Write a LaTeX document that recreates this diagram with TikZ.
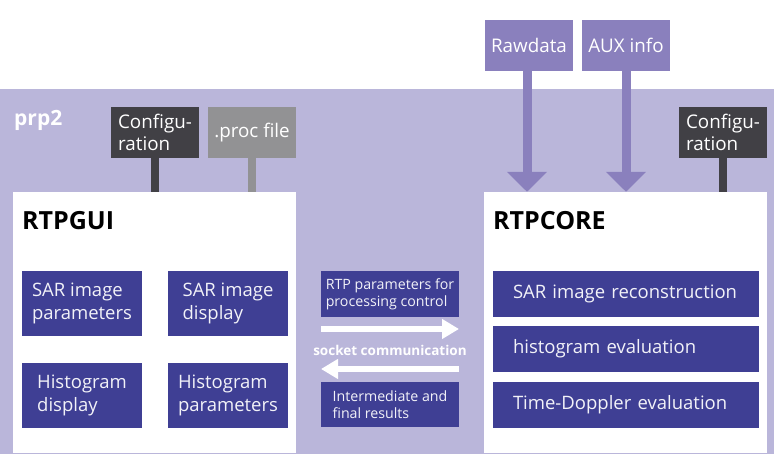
\documentclass[tikz,border=0pt]{standalone}
\usepackage{fontspec}
\setmainfont{Open Sans}
\usetikzlibrary{arrows.meta}
\definecolor{band}{HTML}{BAB6DA}
\definecolor{darkbox}{HTML}{414045}
\definecolor{graybox}{HTML}{929294}
\definecolor{navy}{HTML}{3F3F94}
\definecolor{lilac}{HTML}{8A80BD}
\definecolor{paletext}{HTML}{F2F2F8}
\tikzset{
  wh/.style 2 args={rectangle, inner sep=0pt, minimum width=#1pt, minimum height=#2pt},
  bigbox/.style={wh={283}{261}, fill=white},
  inner/.style={fill=navy, text=paletext, align=left, font=\fontsize{18.5}{23}\selectfont},
  midbox/.style={wh={138}{46}, fill=navy, text=paletext, align=left, font=\fontsize{14.2}{17}\selectfont},
  topbox/.style={wh={88}{51}, text=white, align=left, font=\fontsize{18.8}{22}\selectfont},
  title/.style={anchor=base west, inner sep=0pt, font=\fontsize{25}{28}\selectfont\bfseries},
  stem/.style={line width=7.5pt},
  feed/.style={lilac, line width=9pt, -{Triangle[width=39pt,length=20pt]}},
  sock/.style={white, line width=6pt, -{Triangle[width=19pt,length=17pt]}}
}
\begin{document}
\begin{tikzpicture}[x=1pt,y=-1pt]
\useasboundingbox (0,0) rectangle (774,454);
\fill[band] (0,89) rectangle (774,454);
\node[anchor=base west, inner sep=0pt, text=white, font=\fontsize{21}{24}\selectfont\bfseries] (prp) at (14,126) {prp2};

% top boxes
\node[topbox, fill=darkbox] (cfgL) at (155,132.5) {Configu-\\ration};
\node[topbox, fill=graybox] (proc) at (252,132.5) {.proc file};
\node[topbox, fill=darkbox] (cfgR) at (723,132.5) {Configu-\\ration};
\node[topbox, fill=lilac] (raw) at (529,45.5) {Rawdata};
\node[topbox, fill=lilac] (aux) at (626,45.5) {AUX info};

% big boxes
\node[bigbox] (gui) at (154.5,322.5) {};
\node[bigbox] (core) at (625.5,322.5) {};
\node[title] (guit) at (22,230) {RTPGUI};
\node[title] (coret) at (493,230) {RTPCORE};

% stems
\draw[stem, darkbox] (cfgL.south) -- (cfgL.south |- gui.north);
\draw[stem, graybox] (proc.south) -- (proc.south |- gui.north);
\draw[stem, darkbox] (cfgR.south) -- (cfgR.south |- core.north);
\draw[feed] ([xshift=-2pt]raw.south) -- ([xshift=-2pt]raw.south |- core.north);
\draw[feed] (aux.south) -- (aux.south |- core.north);

% GUI inner boxes
\node[inner, wh={120}{65}] (g1) at (82,303.5) {SAR image\\parameters};
\node[inner, wh={120}{65}] (g2) at (228,303.5) {SAR image\\display};
\node[inner, wh={120}{65}] (g3) at (82,395.5) {Histogram\\display};
\node[inner, wh={120}{65}] (g4) at (228,395.5) {Histogram\\parameters};

% CORE inner boxes
\node[inner, wh={266}{46}, text width=226pt] (c1) at (626,294) {SAR image reconstruction};
\node[inner, wh={266}{46}, text width=226pt] (c2) at (626,349) {histogram evaluation};
\node[inner, wh={266}{46}, text width=226pt] (c3) at (626,405) {Time-Doppler evaluation};

% middle
\node[midbox] (m1) at (390,294) {RTP parameters for\\processing control};
\node[midbox, minimum height=45pt] (m2) at (390,404.5) {Intermediate and\\final results};
\node[text=white, inner sep=0pt, font=\fontsize{13.5}{16}\selectfont\bfseries] (sock) at (390,350) {socket communication};
\coordinate (a1) at (321,329);
\coordinate (a2) at (459,329);
\coordinate (b1) at (459,369);
\coordinate (b2) at (321,369);
\draw[sock] (a1) -- (a2);
\draw[sock] (b1) -- (b2);
\end{tikzpicture}
\end{document}
